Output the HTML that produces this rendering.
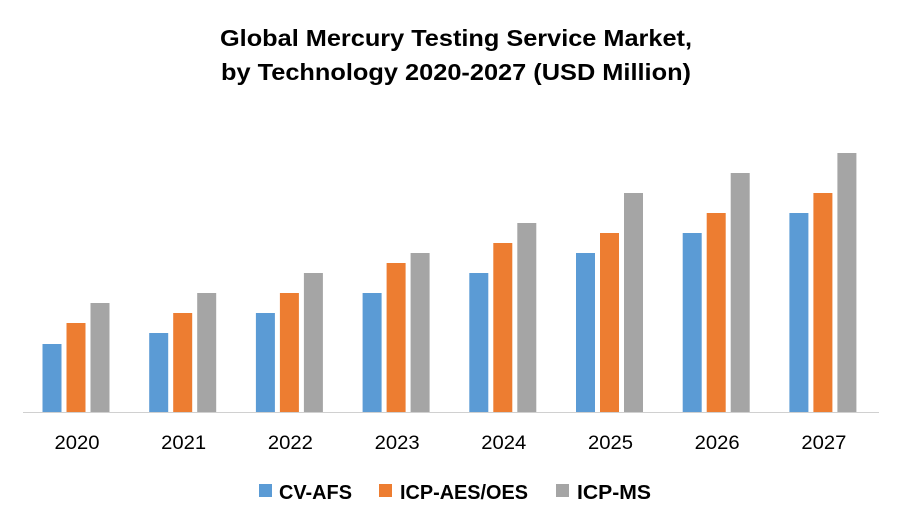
<!DOCTYPE html>
<html><head><meta charset="utf-8"><style>
body{margin:0;background:#fff;}
svg text{font-family:"Liberation Sans",sans-serif;}
</style></head><body>
<svg width="900" height="525" viewBox="0 0 900 525">
<text x="456" y="46" text-anchor="middle" font-size="23" font-weight="bold" fill="#000" textLength="472" lengthAdjust="spacingAndGlyphs">Global Mercury Testing Service Market,</text>
<text x="456" y="80" text-anchor="middle" font-size="23" font-weight="bold" fill="#000" textLength="470" lengthAdjust="spacingAndGlyphs">by Technology 2020-2027 (USD Million)</text>
<g id="bars"></g>
<line x1="23" y1="412.5" x2="879" y2="412.5" stroke="#d0d0d0" stroke-width="1"/>
<g id="ticks"></g>
<g>
<rect x="259" y="484" width="13" height="13" fill="#5B9BD5"/>
<text x="279" y="499" font-size="20" font-weight="bold" textLength="73" lengthAdjust="spacingAndGlyphs">CV-AFS</text>
<rect x="379" y="484" width="13" height="13" fill="#ED7D31"/>
<text x="400" y="499" font-size="20" font-weight="bold" textLength="128" lengthAdjust="spacingAndGlyphs">ICP-AES/OES</text>
<rect x="556" y="484" width="13" height="13" fill="#A5A5A5"/>
<text x="577" y="499" font-size="20" font-weight="bold" textLength="74" lengthAdjust="spacingAndGlyphs">ICP-MS</text>
</g>
</svg>
<script>
const categories=["2020","2021","2022","2023","2024","2025","2026","2027"];
const cvAfs=[68,79,99,119,139,159,179,199];
const icpAes=[89,99,119,149,169,179,199,219];
const icpMs=[109,119,139,159,189,219,239,259];
const seriesColors=["#5B9BD5","#ED7D31","#A5A5A5"];
const seriesNames=["cv-afs","icp-aes-oes","icp-ms"];
const baseY=412,x0=76,step=106.7,scale=1;
function xCenter(i){return x0+i*step;}
function yPos(v){return baseY-v*scale;}
const ns="http://www.w3.org/2000/svg";
const bars=document.getElementById("bars"),ticks=document.getElementById("ticks");
[cvAfs,icpAes,icpMs].forEach((s,k)=>{
  s.forEach((v,i)=>{
    const r=document.createElementNS(ns,"rect");
    const cx=xCenter(i)+(k-1)*24;
    r.setAttribute("x",cx-9.5);r.setAttribute("y",yPos(v));
    r.setAttribute("width",19);r.setAttribute("height",baseY-yPos(v));
    r.setAttribute("fill",seriesColors[k]);
    
    
    bars.appendChild(r);
  });
});
categories.forEach((c,i)=>{
  const t=document.createElementNS(ns,"text");
  t.setAttribute("x",xCenter(i)+1);t.setAttribute("y",449);
  t.setAttribute("text-anchor","middle");t.setAttribute("font-size","19");
  t.setAttribute("textLength","45");t.setAttribute("lengthAdjust","spacingAndGlyphs");
  t.textContent=c;
  
  
  ticks.appendChild(t);
});
</script>
</body></html>
